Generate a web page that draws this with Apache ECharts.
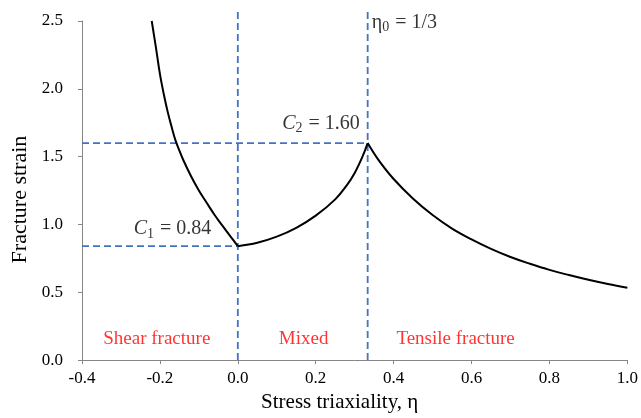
<!DOCTYPE html>
<html>
<head>
<meta charset="utf-8">
<script src="https://cdn.jsdelivr.net/npm/echarts@6/dist/echarts.min.js"></script>
<style>html,body{margin:0;padding:0;background:#fff}#c{width:641px;height:418px}</style>
</head>
<body>
<div id="c"></div>
<script>
// Curve data
var etaLeft    = [-0.221, -0.21, -0.20, -0.19, -0.18, -0.17, -0.16, -0.15, -0.14, -0.12, -0.10, -0.08, -0.06, -0.04, -0.02, 0.0];
var strainLeft = [2.50, 2.30, 2.11, 1.96, 1.83, 1.72, 1.62, 1.545, 1.475, 1.355, 1.25, 1.16, 1.072, 0.993, 0.916, 0.84];
var etaMid     = [0.0, 0.05, 0.10, 0.15, 0.20, 0.25, 0.28, 0.30, 0.32, 0.3333];
var strainMid  = [0.84, 0.865, 0.91, 0.975, 1.065, 1.185, 1.29, 1.38, 1.50, 1.60];
var etaRight    = [0.3333, 0.36, 0.40, 0.45, 0.50, 0.55, 0.60, 0.65, 0.70, 0.75, 0.80, 0.85, 0.90, 0.95, 1.0];
var strainRight = [1.60, 1.48, 1.335, 1.19, 1.07, 0.97, 0.89, 0.82, 0.76, 0.71, 0.665, 0.627, 0.592, 0.561, 0.533];

// Reference lines
var refEta = [0, 1/3];
var refStrain = [0.84, 1.60];
var refTop = 2.58;

// Axis ticks
var xMin = -0.4, xMax = 1.0, xStep = 0.2;
var yMin = 0, yMax = 2.5, yStep = 0.5;

// Region labels
var regionNames = ['Shear fracture', 'Mixed', 'Tensile fracture'];
var regionEta = [-0.208, 0.169, 0.559];
var regionY = 0.152;

function zip(a, b) { return a.map(function (v, i) { return [v, b[i]]; }); }
var serif = "'Times New Roman', 'Liberation Serif', serif";
var mathFont = "'Cambria Math', 'Liberation Serif', serif";
var blue = '#4472C4';
var dash = { color: blue, width: 1.8, type: [7, 4] };

function fmt(v) { if (Math.abs(v) < 1e-9) v = 0; return v.toFixed(1); }

var chart = echarts.init(document.getElementById('c'), null, { renderer: 'canvas' });
var noSym = { showSymbol: false, symbol: 'none', silent: true, animation: false };

function lineSeries(data, style, clip) {
  return Object.assign({ type: 'line', data: data, lineStyle: style, clip: clip, z: 2 }, noSym);
}
function curve(data) {
  return Object.assign({ type: 'line', data: data, smooth: 0.4, clip: false, z: 3,
    lineStyle: { color: '#000', width: 2 } }, noSym);
}

var series = [
  // dashed reference lines
  lineSeries([[refEta[0], 0], [refEta[0], refTop]], dash, false),
  lineSeries([[refEta[1], 0], [refEta[1], refTop]], dash, false),
  lineSeries([[xMin, refStrain[0]], [refEta[0], refStrain[0]]], dash, false),
  lineSeries([[xMin, refStrain[1]], [refEta[1], refStrain[1]]], dash, false),
  // curve
  curve(zip(etaLeft, strainLeft)),
  curve(zip(etaMid, strainMid)),
  curve(zip(etaRight, strainRight)),
  // region labels
  {
    type: 'scatter', symbolSize: 0, silent: true, animation: false, z: 4,
    data: regionNames.map(function (n, i) { return { name: n, value: [regionEta[i], regionY] }; }),
    label: { show: true, position: 'inside', formatter: '{b}', color: '#FF0000', fontFamily: serif, fontSize: 19 }
  },
  // math annotations
  {
    type: 'scatter', symbolSize: 0, silent: true, animation: false, z: 4, clip: false,
    data: [
      { value: [-0.068, 0.965], label: { align: 'right', formatter: '{c|C}{s|1}{t| = 0.84}' } },
      { value: [0.313, 1.745], label: { align: 'right', formatter: '{c|C}{s|2}{t| = 1.60}' } },
      { value: [0.344, 2.49], label: { align: 'left', formatter: '{t|η}{s|0}{t| = 1/3}' } }
    ],
    label: {
      show: true, position: 'inside', color: '#000', fontFamily: mathFont, fontSize: 20,
      rich: {
        c: { fontStyle: 'italic', fontFamily: mathFont, fontSize: 20, color: '#000', verticalAlign: 'middle' },
        s: { fontFamily: mathFont, fontSize: 14, color: '#000', padding: [10, 1, 0, 0], verticalAlign: 'middle' },
        t: { fontFamily: mathFont, fontSize: 20, color: '#000', verticalAlign: 'middle' }
      }
    }
  }
];

chart.setOption({
  animation: false,
  backgroundColor: '#fff',
  grid: { left: 82, right: 7, top: 21, bottom: 52, containLabel: false },
  xAxis: {
    type: 'value', min: xMin, max: xMax, interval: xStep,
    name: 'Stress triaxiality, η', nameLocation: 'middle', nameGap: 28,
    nameTextStyle: { fontFamily: serif, fontSize: 21, color: '#000', padding: [0, 30, 0, 0] },
    axisLine: { show: true, onZero: false, lineStyle: { color: '#868686', width: 1 } },
    axisTick: { show: true, inside: false, length: 4, lineStyle: { color: '#868686' } },
    axisLabel: { margin: 10, fontFamily: serif, fontSize: 17, color: '#000', formatter: fmt },
    splitLine: { show: false }
  },
  yAxis: {
    type: 'value', min: yMin, max: yMax, interval: yStep,
    name: 'Fracture strain', nameLocation: 'middle', nameGap: 43,
    nameTextStyle: { fontFamily: serif, fontSize: 22, color: '#000', padding: [0, 18, 0, 0] },
    axisLine: { show: true, onZero: false, lineStyle: { color: '#868686', width: 1 } },
    axisTick: { show: true, inside: false, length: 4, lineStyle: { color: '#868686' } },
    axisLabel: { margin: 19, fontFamily: serif, fontSize: 17, color: '#000', formatter: fmt },
    splitLine: { show: false }
  },
  series: series
});
</script>
</body>
</html>
